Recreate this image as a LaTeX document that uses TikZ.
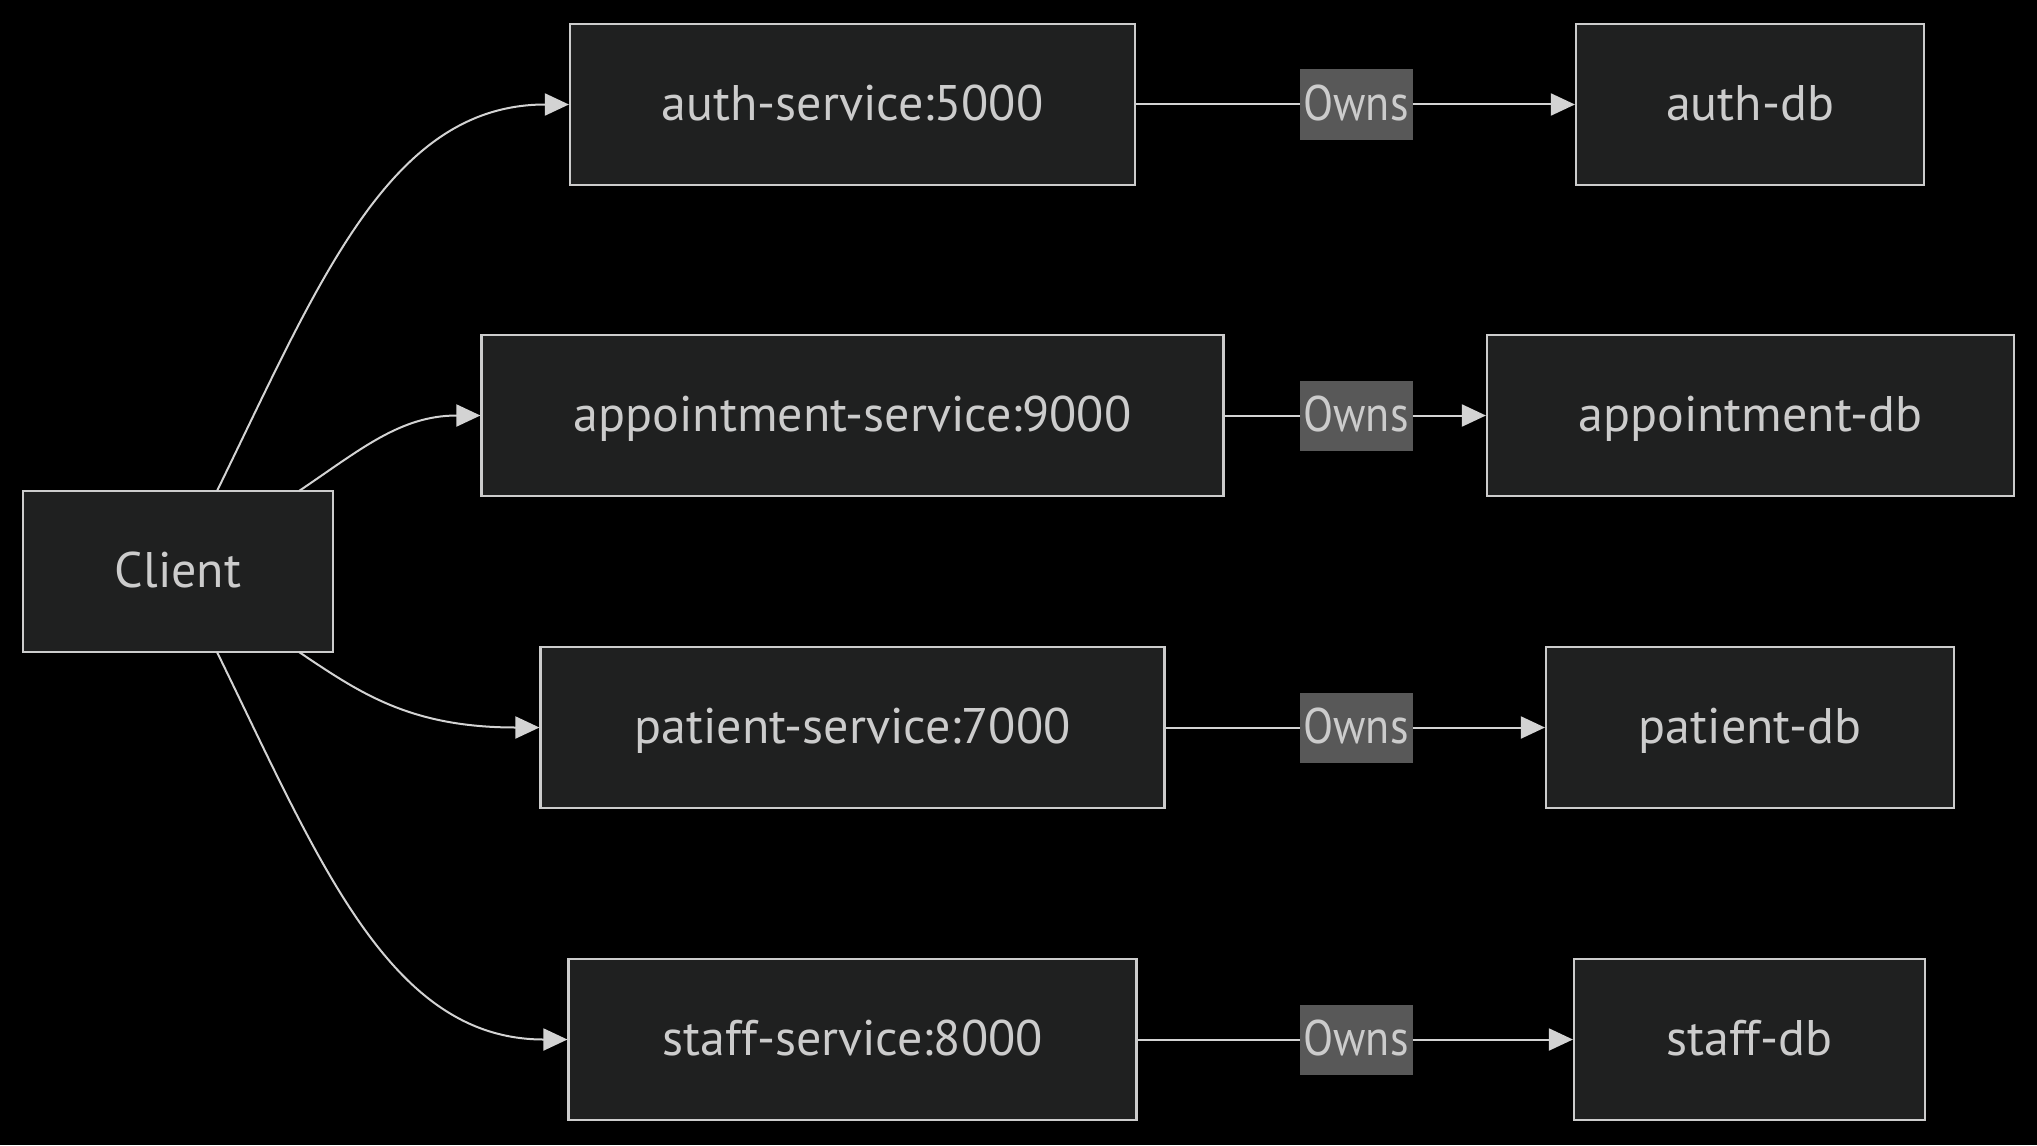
\documentclass[tikz,border=0pt]{standalone}
\usepackage{fontspec}
\usepackage{graphicx}
\setmainfont{PT Sans}
\usetikzlibrary{arrows.meta}
\definecolor{bgc}{HTML}{000000}
\definecolor{nodefill}{HTML}{1F2020}
\definecolor{nodeborder}{HTML}{CCCCCC}
\definecolor{txt}{HTML}{CCCCCC}
\definecolor{lblfill}{HTML}{585858}
\definecolor{edgec}{HTML}{D3D3D3}
\tikzset{
  box/.style={draw=nodeborder, fill=nodefill, line width=1.1pt, text=txt,
    minimum height=80.5pt, inner sep=0pt, text height=20pt, text depth=4pt,
    font=\fontsize{25}{29}\selectfont},
  ownlbl/.style={fill=lblfill, text=txt, minimum width=56.5pt, minimum height=35pt,
    inner sep=0pt, text height=20pt, text depth=4pt, font=\fontsize{25}{29}\selectfont},
  conn/.style={draw=edgec, line width=1pt, -{Triangle[length=12pt,width=11pt]}}
}
\begin{document}
\begin{tikzpicture}[x=0.5pt,y=-0.5pt]
\fill[bgc] (0,0) rectangle (2037,1145);
\useasboundingbox (0,0) rectangle (2037,1145);

\node[box, minimum width=155pt] (client) at (178,571.5) {Client};

\node[box, minimum width=282.5pt] (auth) at (852.5,104.5) {auth-service:5000};
\node[box, minimum width=371pt] (appt) at (852.5,415.5) {appointment-service:9000};
\node[box, minimum width=312pt] (pat) at (852.5,727.5) {patient-service:7000};
\node[box, minimum width=284pt] (staff) at (852.5,1039.5) {staff-service:8000};

\node[box, minimum width=174pt] (authdb) at (1750,104.5) {auth-db};
\node[box, minimum width=263.5pt] (apptdb) at (1750.5,415.5) {appointment-db};
\node[box, minimum width=204pt] (patdb) at (1750,727.5) {patient-db};
\node[box, minimum width=175.5pt] (staffdb) at (1749.5,1039.5) {staff-db};

\coordinate (c1) at (217,491);
\coordinate (c2) at (299,491);
\coordinate (c3) at (299,652);
\coordinate (c4) at (217,652);

\draw[conn] (c1) .. controls (320,280) and (390,104.5) .. (auth.west);
\draw[conn] (c2) .. controls (360,450) and (400,415.5) .. (appt.west);
\draw[conn] (c3) .. controls (360,693) and (410,727.5) .. (pat.west);
\draw[conn] (c4) .. controls (320,863) and (390,1039.5) .. (staff.west);

\draw[conn] (auth.east) -- (authdb.west);
\draw[conn] (appt.east) -- (apptdb.west);
\draw[conn] (pat.east) -- (patdb.west);
\draw[conn] (staff.east) -- (staffdb.west);

\node[ownlbl] (o1) at (1356,104.5) {\scalebox{0.88}[1]{Owns}};
\node[ownlbl] (o2) at (1356,415.5) {\scalebox{0.88}[1]{Owns}};
\node[ownlbl] (o3) at (1356,727.5) {\scalebox{0.88}[1]{Owns}};
\node[ownlbl] (o4) at (1356,1039.5) {\scalebox{0.88}[1]{Owns}};
\end{tikzpicture}
\end{document}
